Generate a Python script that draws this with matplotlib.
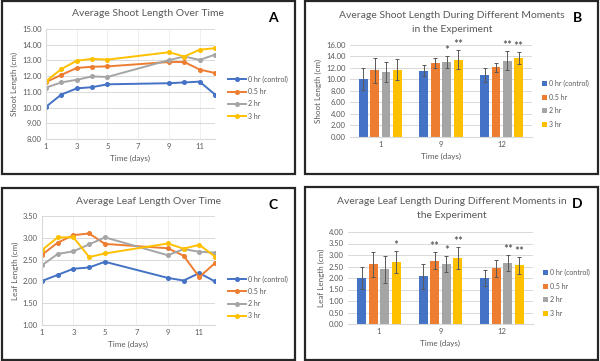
import matplotlib
matplotlib.use("Agg")
import matplotlib.pyplot as plt
from matplotlib.patches import Rectangle
from matplotlib.ticker import FormatStrFormatter
import numpy as np

plt.rcParams['font.family'] = ['Lato', 'DejaVu Sans']

# ---------------- data ----------------
days = [1, 2, 3, 4, 5, 9, 10, 11, 12]
series_names = ["0 hr (control)", "0.5 hr", "2 hr", "3 hr"]
colors = ["#4472C4", "#ED7D31", "#A5A5A5", "#FFC000"]

shoot_control = [10.05, 10.83, 11.22, 11.30, 11.48, 11.55, 11.60, 11.65, 10.83]
shoot_05 = [11.62, 12.08, 12.52, 12.60, 12.62, 12.90, 12.90, 12.42, 12.20]
shoot_2 = [11.27, 11.60, 11.77, 11.98, 11.95, 13.02, 13.25, 13.03, 13.37]
shoot_3 = [11.68, 12.45, 12.98, 13.10, 13.05, 13.52, 13.25, 13.68, 13.78]

leaf_control = [2.01, 2.15, 2.29, 2.32, 2.45, 2.08, 2.02, 2.19, 2.00]
leaf_05 = [2.61, 2.89, 3.06, 3.10, 2.86, 2.76, 2.59, 2.10, 2.42]
leaf_2 = [2.37, 2.63, 2.69, 2.85, 3.01, 2.60, 2.74, 2.68, 2.66]
leaf_3 = [2.72, 3.01, 3.01, 2.56, 2.64, 2.87, 2.75, 2.84, 2.57]

bar_days = ["1", "9", "12"]
shoot_bar_means = [[10.05, 11.55, 10.83], [11.62, 12.86, 12.09], [11.27, 13.05, 13.30], [11.68, 13.42, 13.70]]
shoot_bar_err = [[1.95, 1.00, 1.20], [2.20, 0.85, 0.70], [1.75, 1.00, 1.70], [1.80, 1.65, 1.00]]
shoot_bar_stars = [["", "", ""], ["", "", ""], ["", "*", "**"], ["", "**", "**"]]

leaf_bar_means = [[2.00, 2.07, 2.00], [2.60, 2.75, 2.43], [2.37, 2.60, 2.65], [2.71, 2.86, 2.55]]
leaf_bar_err = [[0.47, 0.55, 0.33], [0.54, 0.37, 0.37], [0.59, 0.35, 0.34], [0.48, 0.47, 0.37]]
leaf_bar_stars = [["", "", ""], ["", "**", ""], ["", "*", "**"], ["*", "**", "**"]]

# ---------------- figure ----------------
W, H = 600, 361
fig = plt.figure(figsize=(W / 100, H / 100), dpi=100)
fig.patch.set_facecolor("white")

TXT = "#595959"
GRID = "#D9D9D9"


def ax_at(x0, y0, x1, y1):
    return fig.add_axes([x0 / W, 1 - y1 / H, (x1 - x0) / W, (y1 - y0) / H])


def frame(x0, y0, x1, y1):
    fig.patches.append(Rectangle((x0 / W, 1 - y1 / H), (x1 - x0) / W, (y1 - y0) / H,
                                 transform=fig.transFigure, fill=False,
                                 edgecolor="#262626", linewidth=1.6))


def ftext(x, y, s, **kw):
    fig.text(x / W, 1 - y / H, s, **kw)


def style_common(ax):
    ax.tick_params(axis="both", labelsize=5.5, colors=TXT, length=0, pad=3)
    ax.yaxis.set_major_formatter(FormatStrFormatter("%.2f"))
    ax.set_axisbelow(True)
    ax.grid(axis="y", color=GRID, linewidth=0.7)


def line_panel(box, axbox, title, letter, ylabel, data, ylim, yticks, legend_y):
    frame(*box)
    ax = ax_at(*axbox)
    for vals, c, n in zip(data, colors, series_names):
        ax.plot(days, vals, color=c, lw=1.4, marker="o", ms=2.6, label=n)
    ax.set_xlim(1, 12)
    ax.set_ylim(*ylim)
    ax.set_yticks(yticks)
    ax.set_xticks([1, 3, 5, 7, 9, 11])
    style_common(ax)
    ax.grid(axis="x", color="#EDEDED", linewidth=0.6)
    for s in ["top", "right"]:
        ax.spines[s].set_visible(False)
    for s in ["left", "bottom"]:
        ax.spines[s].set_color(GRID)
        ax.spines[s].set_linewidth(0.8)
    ax.set_xlabel("Time (days)", fontsize=5.8, color=TXT, labelpad=3)
    ax.set_ylabel(ylabel, fontsize=5.8, color=TXT, labelpad=3)
    ftext(148, box[1] + 13, title, fontsize=7.5, color=TXT, ha="center", va="center")
    ftext(273, box[1] + 17, letter, fontsize=10, fontweight="bold", color="black", ha="center", va="center")
    leg = ax.legend(loc="upper left", bbox_to_anchor=(1.06, legend_y), frameon=False,
                    fontsize=5, handlelength=2.6, labelspacing=0.75, handletextpad=0.3,
                    borderaxespad=0)
    for t in leg.get_texts():
        t.set_color(TXT)
    return ax


def bar_panel(box, axbox, title_lines, letter, ylabel, means, errs, stars, ylim, yticks, legend_y):
    frame(*box)
    ax = ax_at(*axbox)
    x = np.arange(len(bar_days))
    step = 0.187
    bw = 0.148
    for i, (m, e, st, c, n) in enumerate(zip(means, errs, stars, colors, series_names)):
        pos = x + (i - 1.5) * step
        ax.bar(pos, m, width=bw, color=c, label=n, zorder=2)
        ax.errorbar(pos, m, yerr=e, fmt="none", ecolor="#595959", elinewidth=0.7,
                    capsize=1.6, capthick=0.7, zorder=3)
        for p, mv, ev, s in zip(pos, m, e, st):
            if s:
                ax.text(p, mv + ev, s, ha="center", va="bottom", fontsize=8.5,
                        color="#404040", zorder=4, linespacing=0.8)
    ax.set_xlim(-0.5, len(bar_days) - 0.5)
    ax.set_ylim(*ylim)
    ax.set_yticks(yticks)
    ax.set_xticks(x)
    ax.set_xticklabels(bar_days)
    style_common(ax)
    for s in ["top", "right", "left"]:
        ax.spines[s].set_visible(False)
    ax.spines["bottom"].set_color(GRID)
    ax.spines["bottom"].set_linewidth(0.8)
    ax.set_xlabel("Time (days)", fontsize=5.8, color=TXT, labelpad=3)
    ax.set_ylabel(ylabel, fontsize=5.8, color=TXT, labelpad=3)
    ftext(452, box[1] + 14, title_lines[0], fontsize=7.5, color=TXT, ha="center", va="center")
    ftext(452, box[1] + 28, title_lines[1], fontsize=7.5, color=TXT, ha="center", va="center")
    ftext(577, box[1] + 17, letter, fontsize=10, fontweight="bold", color="black", ha="center", va="center")
    leg = ax.legend(loc="upper left", bbox_to_anchor=(1.04, legend_y), frameon=False,
                    fontsize=5, handlelength=0.7, handleheight=0.7, labelspacing=0.95,
                    handletextpad=0.3, borderaxespad=0)
    for t in leg.get_texts():
        t.set_color(TXT)
    return ax


line_panel((2, 1, 295, 174), (46, 29, 215, 139), "Average Shoot Length Over Time", "A",
           "Shoot Length (cm)", [shoot_control, shoot_05, shoot_2, shoot_3],
           (8, 15), np.arange(8, 15.01, 1.0), 0.60)

bar_panel((305, 1, 598, 174), (350, 45, 532, 137),
          ["Average Shoot Length During Different Moments", "in the Experiment"], "B",
          "Shoot Length (cm)", shoot_bar_means, shoot_bar_err, shoot_bar_stars,
          (0, 16), np.arange(0, 16.01, 2.0), 0.65)

line_panel((2, 188, 295, 360), (42, 216, 215, 325), "Average Leaf Length Over Time", "C",
           "Leaf Length (cm)", [leaf_control, leaf_05, leaf_2, leaf_3],
           (1, 3.5), np.arange(1, 3.51, 0.5), 0.48)

bar_panel((305, 187, 598, 360), (348, 232, 533, 324),
          ["Average Leaf Length During Different Moments in", "the Experiment"], "D",
          "Leaf Length (cm)", leaf_bar_means, leaf_bar_err, leaf_bar_stars,
          (0, 4), np.arange(0, 4.01, 0.5), 0.63)

fig.savefig("out.png", dpi=100, facecolor="white")
